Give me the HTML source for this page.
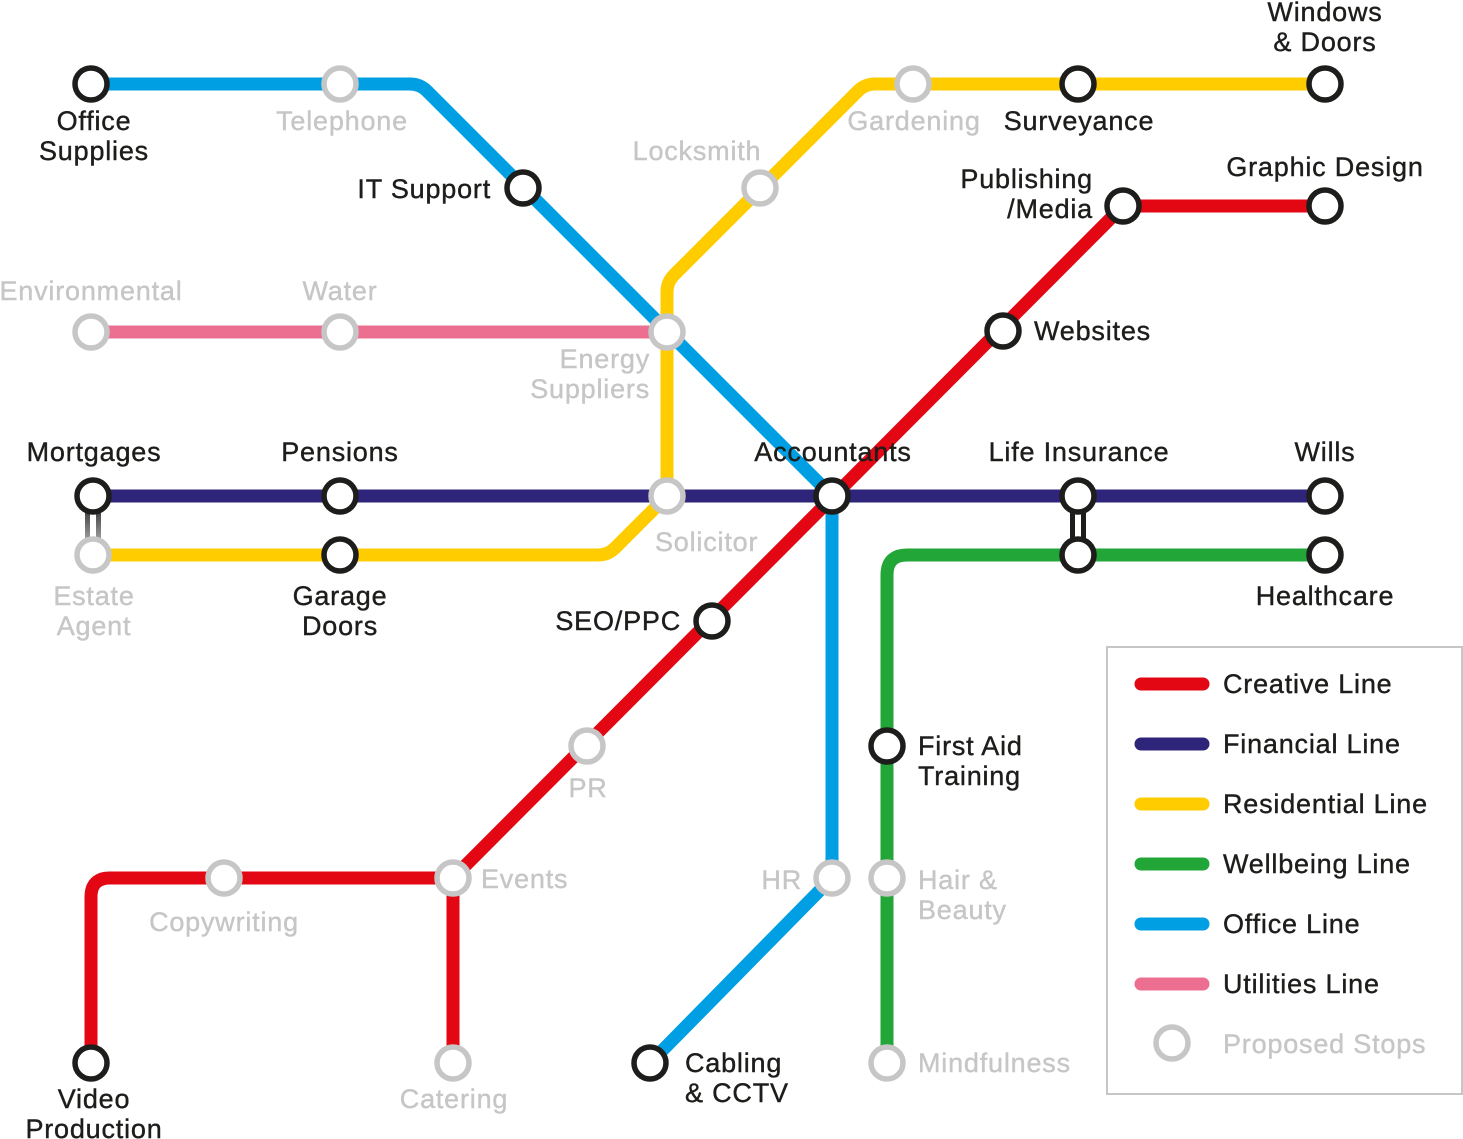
<!DOCTYPE html>
<html><head><meta charset="utf-8"><style>
html,body{margin:0;padding:0;background:#fff}
svg{display:block}
text{font-family:"Liberation Sans",Arial,sans-serif;font-size:27px;letter-spacing:0.8px;fill:#1d1d1b;stroke:#1d1d1b;stroke-width:0.4px}
.g{fill:#c6c6c6;stroke:#c6c6c6}
</style></head><body>
<svg width="1463" height="1139" viewBox="0 0 1463 1139" xmlns="http://www.w3.org/2000/svg">
<defs>
<linearGradient id="tube" x1="0" y1="0" x2="0" y2="1">
<stop offset="0" stop-color="#1d1d1b"/><stop offset="1" stop-color="#c6c6c6"/>
</linearGradient>
</defs>
<g fill="none" stroke-width="13" stroke-linejoin="round">
<path d="M91 332 L667 332" stroke="#ec6f91"/>
<path d="M93 496 L1325 496" stroke="#2e2479"/>
<path d="M1325 555 L907 555 Q887 555 887 575 L887 1063" stroke="#22a638"/>
<path d="M1325 84 L875 84 Q865 84 858 91 L674 275 Q667 282 667 292 L667 496 L615 548 Q608 555 598 555 L93 555" stroke="#ffcc00"/>
<path d="M91 84 L410 84 Q420 84 427 91 L832 496 L832 878 L650 1063" stroke="#009fe3"/>
<path d="M1325 206 L1123 206 L453 878 L110 878 Q91 878 91 897 L91 1063 M453 878 L453 1063" stroke="#e30613"/>
</g>
<rect x="85" y="500" width="16" height="52" fill="url(#tube)"/>
<rect x="90" y="500" width="6" height="52" fill="#fff"/>
<rect x="1070" y="500" width="16" height="52" fill="#1d1d1b"/>
<rect x="1075" y="500" width="6" height="52" fill="#fff"/>
<g fill="#fff" stroke-width="5.5">
<g stroke="#1d1d1b">
<circle cx="91" cy="84" r="16"/><circle cx="523" cy="188" r="16"/><circle cx="1078" cy="84" r="16"/>
<circle cx="1325" cy="84" r="16"/><circle cx="1123" cy="206" r="16"/><circle cx="1325" cy="206" r="16"/>
<circle cx="1003" cy="331" r="16"/><circle cx="93" cy="496" r="16"/><circle cx="340" cy="496" r="16"/>
<circle cx="832" cy="496" r="16"/><circle cx="1078" cy="496" r="16"/><circle cx="1325" cy="496" r="16"/>
<circle cx="340" cy="555" r="16"/><circle cx="1325" cy="555" r="16"/><circle cx="1078" cy="555" r="16"/>
<circle cx="712" cy="621" r="16"/><circle cx="887" cy="746" r="16"/><circle cx="91" cy="1063" r="16"/>
<circle cx="650" cy="1063" r="16"/>
</g>
<g stroke="#c6c6c6">
<circle cx="340" cy="84" r="16"/><circle cx="760" cy="188" r="16"/><circle cx="913" cy="84" r="16"/>
<circle cx="91" cy="332" r="16"/><circle cx="340" cy="332" r="16"/><circle cx="667" cy="332" r="16"/>
<circle cx="667" cy="496" r="16"/><circle cx="93" cy="555" r="16"/><circle cx="587" cy="746" r="16"/>
<circle cx="224" cy="878" r="16"/><circle cx="453" cy="878" r="16"/><circle cx="832" cy="878" r="16"/>
<circle cx="887" cy="878" r="16"/><circle cx="453" cy="1063" r="16"/><circle cx="887" cy="1063" r="16"/>
<circle cx="1172" cy="1043" r="16"/>
</g>
</g>
<rect x="1107" y="647" width="355" height="447" fill="none" stroke="#c6c6c6" stroke-width="2"/>
<g stroke-width="13" stroke-linecap="round">
<line x1="1141" y1="684" x2="1203" y2="684" stroke="#e30613"/>
<line x1="1141" y1="744" x2="1203" y2="744" stroke="#2e2479"/>
<line x1="1141" y1="804" x2="1203" y2="804" stroke="#ffcc00"/>
<line x1="1141" y1="864" x2="1203" y2="864" stroke="#22a638"/>
<line x1="1141" y1="924" x2="1203" y2="924" stroke="#009fe3"/>
<line x1="1141" y1="984" x2="1203" y2="984" stroke="#ec6f91"/>
</g>
<text x="1223" y="693">Creative Line</text>
<text x="1223" y="753">Financial Line</text>
<text x="1223" y="813">Residential Line</text>
<text x="1223" y="873">Wellbeing Line</text>
<text x="1223" y="933">Office Line</text>
<text x="1223" y="993">Utilities Line</text>
<text x="1223" y="1053" class="g">Proposed Stops</text>
<g text-anchor="middle">
<text x="94" y="130">Office</text><text x="94" y="160">Supplies</text>
<text x="342" y="130" class="g">Telephone</text>
<text x="697" y="160" class="g">Locksmith</text>
<text x="914" y="130" class="g">Gardening</text>
<text x="1079" y="130">Surveyance</text>
<text x="1325" y="21">Windows</text><text x="1325" y="51">&amp; Doors</text>
<text x="1325" y="176">Graphic Design</text>
<text x="91" y="300" class="g">Environmental</text>
<text x="340" y="300" class="g">Water</text>
<text x="94" y="461">Mortgages</text>
<text x="340" y="461">Pensions</text>
<text x="833" y="461">Accountants</text>
<text x="1079" y="461">Life Insurance</text>
<text x="1325" y="461">Wills</text>
<text x="94" y="605" class="g">Estate</text><text x="94" y="635" class="g">Agent</text>
<text x="340" y="605">Garage</text><text x="340" y="635">Doors</text>
<text x="1325" y="605">Healthcare</text>
<text x="588" y="797" class="g">PR</text>
<text x="224" y="931" class="g">Copywriting</text>
<text x="94" y="1108">Video</text><text x="94" y="1138">Production</text>
<text x="454" y="1108" class="g">Catering</text>
</g>
<g text-anchor="end">
<text x="491" y="198">IT Support</text>
<text x="1093" y="188">Publishing</text><text x="1093" y="218">/Media</text>
<text x="650" y="368" class="g">Energy</text><text x="650" y="398" class="g">Suppliers</text>
<text x="681" y="630">SEO/PPC</text>
<text x="802" y="889" class="g">HR</text>
</g>
<text x="1034" y="340">Websites</text>
<text x="655" y="551" class="g">Solicitor</text>
<text x="918" y="755">First Aid</text><text x="918" y="785">Training</text>
<text x="481" y="888" class="g">Events</text>
<text x="918" y="889" class="g">Hair &amp;</text><text x="918" y="919" class="g">Beauty</text>
<text x="685" y="1072">Cabling</text><text x="685" y="1102">&amp; CCTV</text>
<text x="918" y="1072" class="g">Mindfulness</text>
</svg>
</body></html>
